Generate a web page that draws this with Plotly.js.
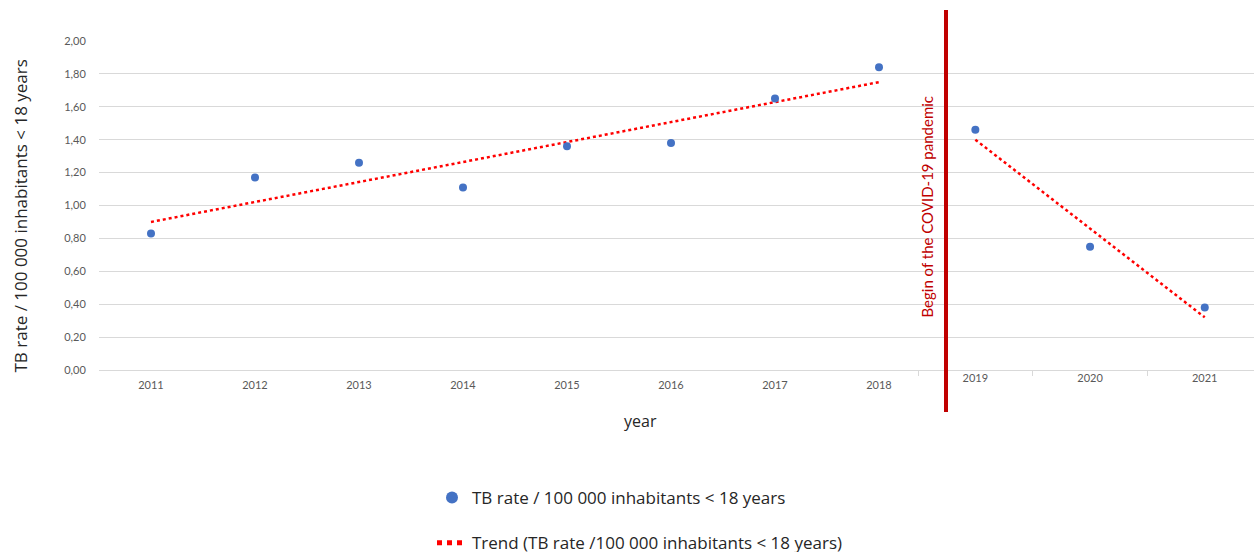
<!DOCTYPE html>
<html>
<head>
<meta charset="utf-8">
<script src="https://cdn.plot.ly/plotly-3.0.1.min.js"></script>
<style>
html,body{margin:0;padding:0;background:#fff;}
#chart{width:1254px;height:552px;}
</style>
</head>
<body>
<div id="chart"></div>
<script>
// ---- data ----
const yearsPre = ['2011','2012','2013','2014','2015','2016','2017','2018'];
const ratePre = [0.83, 1.17, 1.26, 1.11, 1.36, 1.38, 1.65, 1.84];
const yearsPost = ['2019','2020','2021'];
const ratePost = [1.46, 0.75, 0.38];
const trendPreX = ['2011','2018'];
const trendPreY = [0.90, 1.75];
const trendPostX = ['2019','2021'];
const trendPostY = [1.40, 0.32];
const yTicks = [0, 0.2, 0.4, 0.6, 0.8, 1.0, 1.2, 1.4, 1.6, 1.8, 2.0];

const seriesName = 'TB rate / 100 000 inhabitants < 18 years';
const trendName = 'Trend (TB rate /100 000 inhabitants < 18 years)';
const pandemicLabel = 'Begin of the COVID-19 pandemic';
const yTitle = 'TB rate / 100 000 inhabitants < 18 years';
const xTitle = 'year';

const FONT = 'Lato, "Open Sans", sans-serif';
const BIGFONT = '"Open Sans", Lato, sans-serif';
const BLUE = '#4472C4';
const RED = '#FF0000';
const DARKRED = '#C00000';
const GRID = '#D9D9D9';

const traces = [
  {x: trendPreX, y: trendPreY, xaxis: 'x', yaxis: 'y', type: 'scatter', mode: 'lines',
   name: trendName, legendgroup: 'trend', legendrank: 2,
   line: {color: RED, width: 2.5, dash: 'dot'}, hoverinfo: 'skip'},
  {x: trendPostX, y: trendPostY, xaxis: 'x2', yaxis: 'y', type: 'scatter', mode: 'lines',
   name: trendName, legendgroup: 'trend', showlegend: false,
   line: {color: RED, width: 2.5, dash: 'dot'}, hoverinfo: 'skip'},
  {x: yearsPre, y: ratePre, xaxis: 'x', yaxis: 'y', type: 'scatter', mode: 'markers',
   name: seriesName, legendgroup: 'rate', legendrank: 1,
   marker: {color: BLUE, size: 8}},
  {x: yearsPost, y: ratePost, xaxis: 'x2', yaxis: 'y', type: 'scatter', mode: 'markers',
   name: seriesName, legendgroup: 'rate', showlegend: false,
   marker: {color: BLUE, size: 8}}
];

const W = 1155; // plot width in px (1254 - 99)
const H = 329;  // plot height in px
const px = v => (v - 99) / W;
const py = v => (370 - v) / H;

const xCommon = {
  type: 'category', showgrid: false, zeroline: false, showline: false,
  tickfont: {family: FONT, size: 11, color: '#595959'},
  ticks: 'outside', ticklen: 5, tickwidth: 1, fixedrange: true
};

const layout = {
  width: 1254, height: 552,
  margin: {l: 99, r: 0, t: 41, b: 182, autoexpand: false},
  paper_bgcolor: '#ffffff', plot_bgcolor: 'rgba(0,0,0,0)',
  separators: ', ',
  font: {family: FONT, color: '#404040'},
  showlegend: true,
  xaxis: Object.assign({}, xCommon, {
    domain: [0, px(931)], anchor: 'y',
    categoryorder: 'array', categoryarray: yearsPre,
    range: [-0.5, 7.5], tickcolor: 'rgba(0,0,0,0)'
  }),
  xaxis2: Object.assign({}, xCommon, {
    domain: [px(918), 1], anchor: 'y',
    categoryorder: 'array', categoryarray: yearsPost,
    range: [-0.5, -0.5 + 336 / 114.7], tickson: 'boundaries', tickcolor: GRID
  }),
  yaxis: {
    range: [0, 2], tickvals: yTicks, tickformat: '.2f',
    showgrid: true, gridcolor: GRID, gridwidth: 1,
    zeroline: true, zerolinecolor: GRID, zerolinewidth: 1,
    showline: false, ticks: 'outside', ticklen: 10, tickcolor: 'rgba(0,0,0,0)',
    tickfont: {family: FONT, size: 11, color: '#595959'},
    fixedrange: true
  },
  legend: {
    orientation: 'v', x: px(432), xanchor: 'left', y: py(480), yanchor: 'top',
    font: {family: BIGFONT, size: 17, color: '#262626'},
    tracegroupgap: 20, itemsizing: 'constant', bgcolor: 'rgba(0,0,0,0)'
  },
  shapes: [
    {type: 'line', xref: 'paper', yref: 'paper',
     x0: px(946), x1: px(946), y0: py(412), y1: py(10),
     line: {color: DARKRED, width: 4}, layer: 'above'}
  ],
  annotations: [
    {text: pandemicLabel, xref: 'paper', yref: 'paper', x: px(926), y: py(206.5),
     textangle: -90, showarrow: false, xanchor: 'center', yanchor: 'middle',
     font: {family: FONT, size: 15, color: DARKRED}},
    {text: yTitle, xref: 'paper', yref: 'paper', x: px(20), y: py(216.5),
     textangle: -90, showarrow: false, xanchor: 'center', yanchor: 'middle',
     font: {family: BIGFONT, size: 17, color: '#262626'}},
    {text: xTitle, xref: 'paper', yref: 'paper', x: px(640), y: py(421),
     showarrow: false, xanchor: 'center', yanchor: 'middle',
     font: {family: BIGFONT, size: 16, color: '#262626'}}
  ]
};

Plotly.newPlot('chart', traces, layout, {staticPlot: true, displayModeBar: false});
</script>
</body>
</html>
